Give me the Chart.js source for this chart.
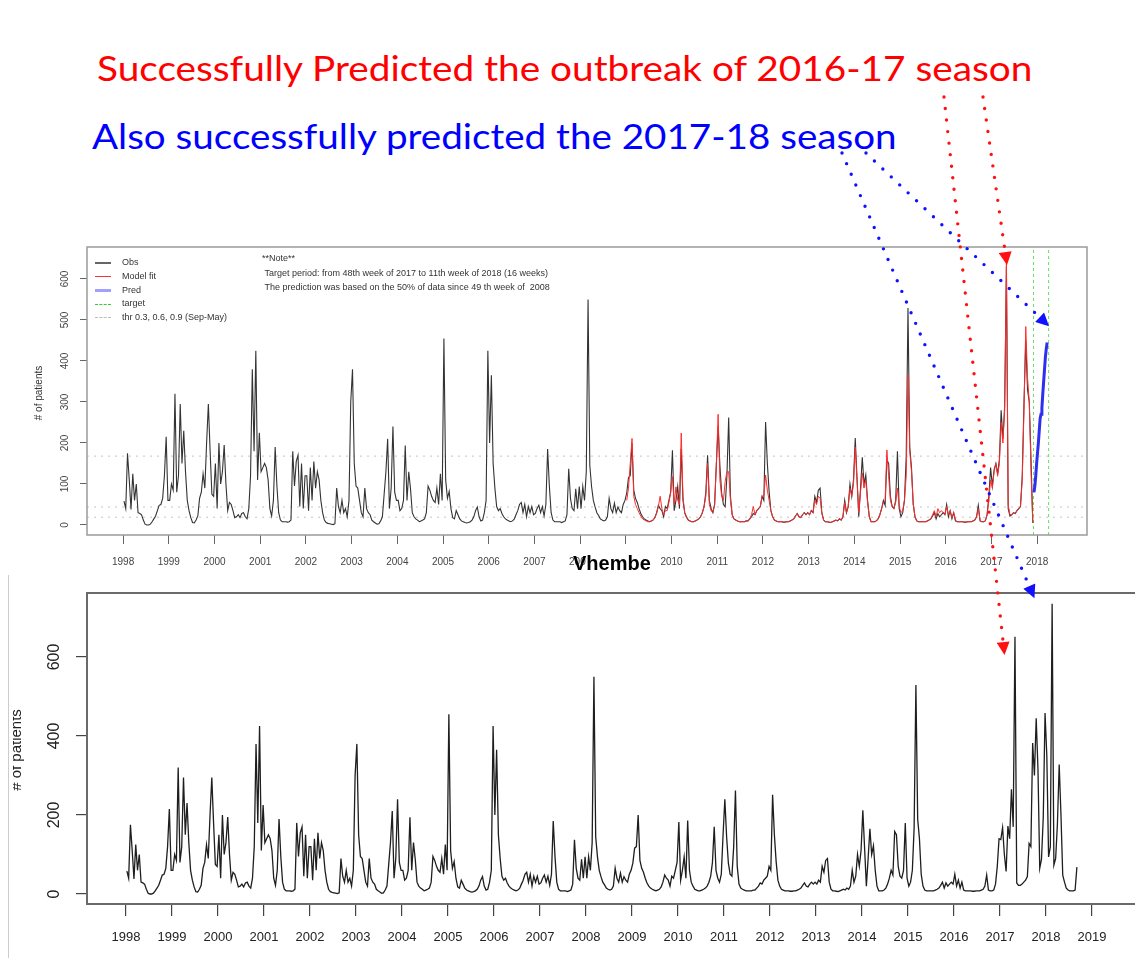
<!DOCTYPE html>
<html>
<head>
<meta charset="utf-8">
<title>Vhembe - outbreak prediction</title>
<script src="https://cdn.jsdelivr.net/npm/chart.js@4.4.1/dist/chart.umd.min.js"></script>
<style>
  html, body { margin: 0; padding: 0; background: #fff; }
  body {
    width: 1135px; height: 958px; position: relative; overflow: hidden;
    font-family: 'Liberation Sans', Arial, sans-serif; color: #222;
  }
  canvas { position: absolute; left: 0; }
  #topChart { top: 240px; }
  #bottomChart { top: 585px; }

  .headline {
    position: absolute; white-space: nowrap; transform-origin: 0 0;
    font-family: Lato, 'Open Sans', sans-serif; font-size: 34px; line-height: 34px;
  }
  .legend { position: absolute; left: 95px; top: 256px; font-size: 9px; line-height: 13.8px; color: #333; }
  .legend div { white-space: nowrap; }
  .swatch { display: inline-block; width: 16px; height: 0; margin-right: 11px; vertical-align: middle; }
  .note { position: absolute; left: 262px; top: 251px; font-size: 9px; line-height: 14.5px; color: #333; white-space: nowrap; }
  .ytitle { position: absolute; white-space: nowrap; transform: translate(-50%, -50%) rotate(-90deg); }
  .clip { position: absolute; overflow: hidden; }
  #vhembe { position: absolute; left: 573px; top: 551px; font-size: 20px; font-weight: bold; color: #000; line-height: 24px; }
  #vhembeMask { position: absolute; left: 586px; top: 553px; width: 70px; height: 20px; background: #fff; }
  #slideEdge { position: absolute; left: 8px; top: 575px; width: 1px; height: 383px; background: #ccc; }
  #arrows { position: absolute; left: 0; top: 0; pointer-events: none; }
</style>
</head>
<body>

<div class="headline" style="left:97px; top:51px; color:#ff0000;" data-width="935">Successfully Predicted the outbreak of 2016-17 season</div>
<div class="headline" style="left:92px; top:119px; color:#0000ff;" data-width="805">Also successfully predicted the 2017-18 season</div>

<canvas id="topChart" width="1135" height="335"></canvas>
<canvas id="bottomChart" width="1160" height="373"></canvas>

<div class="legend">
  <div><span class="swatch" style="border-top:2px solid #666;"></span>Obs</div>
  <div><span class="swatch" style="border-top:1px solid #ff3333;"></span>Model fit</div>
  <div><span class="swatch" style="border-top:3px solid #a0a0ff;"></span>Pred</div>
  <div><span class="swatch" style="border-top:1px dashed #33cc33;"></span>target</div>
  <div><span class="swatch" style="border-top:1px dashed #bbbbbb;"></span>thr 0.3, 0.6, 0.9 (Sep-May)</div>
</div>

<div class="note">
  **Note**<br>
  &nbsp;Target period: from 48th week of 2017 to 11th week of 2018 (16 weeks)<br>
  &nbsp;The prediction was based on the 50% of data since 49 th week of&nbsp; 2008
</div>

<div class="ytitle" style="left:38px; top:393px; font-size:10px; color:#333;"># of patients</div>

<div class="clip" style="left:13px; top:650px; width:30px; height:200px;">
  <div class="ytitle" style="left:2px; top:100px; font-size:15px; color:#222;"># of patients</div>
</div>
<div id="slideEdge"></div>

<div id="vhembeMask"></div>
<div id="vhembe">Vhembe</div>

<svg id="arrows" width="1135" height="958">
  <defs>
    <marker id="headRed" viewBox="0 0 10 10" refX="10" refY="5" markerWidth="14" markerHeight="13" markerUnits="userSpaceOnUse" orient="auto">
      <path d="M0,0 L10,5 L0,10 z" fill="#ff1111"></path>
    </marker>
    <marker id="headBlue" viewBox="0 0 10 10" refX="10" refY="5" markerWidth="14" markerHeight="13" markerUnits="userSpaceOnUse" orient="auto">
      <path d="M0,0 L10,5 L0,10 z" fill="#1111ff"></path>
    </marker>
  </defs>
</svg>

<script>
/**
 * Dados (leitura da figura)
 * ======================================================================== */

// contagens semanais agregadas em 26 passos por ano (~2 semanas cada)
const SLOTS_PER_YEAR = 26;

const obs1998 = [58, 40, 175, 110, 38, 125, 60, 100, 30, 28, 25, 12, 2, 0, 0, 2, 8, 15, 22, 35, 48, 50, 65, 120, 215, 60];
const obs1999 = [60, 100, 85, 320, 80, 120, 295, 150, 230, 130, 60, 35, 18, 6, 5, 12, 22, 65, 80, 125, 90, 200, 295, 180, 75, 70];
const obs2000 = [150, 40, 200, 100, 130, 195, 100, 35, 55, 50, 35, 18, 20, 25, 18, 28, 30, 20, 15, 40, 120, 380, 180, 425, 110, 225];
const obs2001 = [130, 140, 150, 140, 110, 40, 22, 60, 190, 95, 30, 12, 8, 8, 8, 7, 8, 12, 180, 95, 155, 170, 45, 150, 40, 120];
const obs2002 = [120, 35, 140, 60, 155, 90, 130, 110, 60, 30, 12, 6, 4, 3, 2, 1, 3, 90, 45, 30, 60, 30, 40, 20, 60, 300];
const obs2003 = [380, 150, 95, 90, 60, 30, 20, 90, 40, 30, 25, 12, 8, 5, 2, 3, 10, 20, 75, 130, 210, 40, 90, 240, 80, 60];
const obs2004 = [60, 35, 40, 60, 194, 60, 130, 88, 30, 20, 15, 12, 8, 10, 12, 15, 30, 95, 85, 70, 60, 55, 90, 50, 125, 60];
const obs2005 = [455, 110, 65, 82, 40, 18, 15, 35, 25, 15, 10, 8, 6, 5, 6, 8, 12, 20, 35, 44, 20, 10, 12, 30, 60, 425];
const obs2006 = [200, 365, 150, 90, 45, 35, 40, 28, 20, 15, 12, 10, 8, 10, 14, 25, 35, 50, 55, 30, 50, 20, 45, 30, 45, 25];
const obs2007 = [28, 40, 48, 30, 45, 22, 50, 185, 94, 30, 12, 8, 8, 8, 8, 6, 8, 10, 25, 137, 65, 40, 35, 88, 40, 94];
const obs2008 = [40, 94, 60, 130, 550, 145, 94, 60, 44, 30, 23, 15, 12, 10, 12, 20, 65, 40, 30, 53, 30, 44, 35, 30, 50, 60];
const obs2009 = [78, 116, 120, 200, 85, 65, 55, 40, 28, 20, 15, 12, 10, 8, 10, 12, 18, 30, 48, 40, 35, 20, 45, 40, 60, 80];
const obs2010 = [182, 35, 60, 94, 40, 186, 60, 30, 20, 12, 10, 8, 8, 10, 12, 15, 20, 30, 45, 80, 170, 60, 40, 30, 50, 150];
const obs2011 = [240, 145, 78, 50, 45, 120, 262, 70, 25, 15, 12, 10, 8, 8, 8, 8, 10, 10, 15, 20, 28, 25, 35, 40, 45, 70];
const obs2012 = [60, 251, 150, 82, 35, 20, 12, 10, 8, 8, 8, 7, 7, 8, 8, 10, 12, 15, 22, 28, 20, 18, 25, 30, 25, 30];
const obs2013 = [25, 35, 30, 70, 55, 85, 90, 30, 12, 8, 8, 7, 6, 8, 10, 12, 10, 15, 12, 20, 60, 30, 45, 100, 70, 110];
const obs2014 = [212, 116, 20, 90, 165, 100, 122, 60, 20, 8, 8, 8, 10, 15, 25, 40, 60, 48, 158, 150, 70, 45, 40, 60, 180, 40];
const obs2015 = [20, 30, 60, 168, 529, 190, 140, 50, 20, 10, 8, 8, 8, 8, 8, 10, 12, 15, 22, 30, 15, 28, 20, 25, 30, 25];
const obs2016 = [50, 20, 35, 15, 30, 10, 8, 8, 8, 8, 7, 7, 8, 8, 8, 10, 12, 20, 48, 10, 8, 8, 10, 25, 70, 140];
const obs2017 = [138, 168, 100, 57, 172, 140, 265, 170, 651, 28, 22, 22, 25, 30, 35, 44, 128, 120, 382, 300, 445, 316, 65, 88, 195, 458];
const obs2018 = [350, 94, 120, 735, 73, 90, 178, 328, 200, 48, 30, 15, 10, 8, 8, 8, 10, 68];

// série usada no gráfico de cima (termina na 47a semana de 2017)
const obs2017Top = [95, 135, 150, 125, 160, 280, 210, 290, 630, 40, 22, 25, 30, 28, 35, 40, 45, 120, 300, 450, 330, 300, 160, 5];

// ajuste do modelo (linha vermelha)
const fit2009 = [60, 90, 150, 211, 70, 50, 40, 30, 22, 15, 12, 10, 8, 8, 10, 12, 18, 28, 45, 70, 40, 25, 35, 35, 55, 80];
const fit2010 = [118, 50, 93, 60, 50, 224, 70, 28, 18, 12, 10, 8, 8, 10, 12, 15, 20, 30, 45, 70, 150, 50, 35, 30, 50, 150];
const fit2011 = [270, 110, 70, 60, 106, 130, 130, 60, 25, 15, 12, 10, 8, 8, 8, 8, 10, 10, 15, 25, 45, 25, 35, 40, 45, 70];
const fit2012 = [70, 122, 85, 60, 35, 20, 12, 10, 8, 8, 8, 7, 7, 8, 8, 10, 12, 15, 22, 28, 20, 18, 25, 30, 25, 30];
const fit2013 = [25, 35, 30, 60, 50, 70, 65, 28, 12, 8, 8, 7, 6, 8, 10, 12, 10, 15, 12, 20, 55, 30, 45, 90, 70, 100];
const fit2014 = [190, 110, 30, 80, 127, 90, 110, 55, 20, 8, 8, 8, 10, 15, 25, 40, 55, 60, 183, 120, 60, 45, 40, 55, 90, 45];
const fit2015 = [30, 35, 60, 120, 366, 180, 130, 50, 20, 10, 8, 8, 8, 8, 8, 10, 12, 15, 25, 35, 20, 40, 30, 35, 30, 25];
const fit2016 = [45, 25, 35, 18, 30, 12, 8, 8, 8, 8, 7, 7, 8, 8, 8, 10, 12, 20, 40, 12, 8, 8, 10, 25, 60, 110];
const fit2017 = [90, 130, 150, 120, 150, 250, 200, 280, 640, 50, 25, 25, 30, 28, 35, 40, 45, 110, 280, 484, 360, 300, 130, 5];

// previsão semanal: 16 semanas a partir da 48a semana de 2017
const PRED_START = 2017.93;
const pred = [80, 95, 120, 150, 175, 200, 230, 260, 270, 285, 320, 350, 380, 410, 430, 445];

// limiares e janela alvo
const thresholds = [168, 44, 19];
const targetPeriod = [2017.92, 2018.25];

// eixos
const topYearTicks = [1998, 1999, 2000, 2001, 2002, 2003, 2004, 2005, 2006, 2007, 2008, 2009, 2010, 2011, 2012, 2013, 2014, 2015, 2016, 2017, 2018];
const bottomYearTicks = [1998, 1999, 2000, 2001, 2002, 2003, 2004, 2005, 2006, 2007, 2008, 2009, 2010, 2011, 2012, 2013, 2014, 2015, 2016, 2017, 2018, 2019];
const topValueTicks = [0, 100, 200, 300, 400, 500, 600];
const bottomValueTicks = [0, 200, 400, 600];

const obsYears = [1998, 1999, 2000, 2001, 2002, 2003, 2004, 2005, 2006, 2007, 2008, 2009, 2010, 2011, 2012, 2013, 2014, 2015, 2016];
const obsCommon = [obs1998, obs1999, obs2000, obs2001, obs2002, obs2003, obs2004, obs2005, obs2006, obs2007, obs2008,
                   obs2009, obs2010, obs2011, obs2012, obs2013, obs2014, obs2015, obs2016];
const fitYears = [2009, 2010, 2011, 2012, 2013, 2014, 2015, 2016, 2017];
const fitValues = [fit2009, fit2010, fit2011, fit2012, fit2013, fit2014, fit2015, fit2016, fit2017];

/**
 * Montagem dos pontos
 * ======================================================================== */
function seriesPoints(years, blocks) {
    const pts = [];
    years.forEach((year, i) => {
        blocks[i].forEach((v, k) => pts.push({ x: year + (k + 0.5) / SLOTS_PER_YEAR, y: v }));
    });
    return pts;
}

const obsTopPoints = seriesPoints(obsYears.concat([2017]), obsCommon.concat([obs2017Top]));
const obsBottomPoints = seriesPoints(obsYears.concat([2017, 2018]), obsCommon.concat([obs2017, obs2018]));
const fitPoints = seriesPoints(fitYears, fitValues);
const predPoints = pred.map((v, i) => ({ x: PRED_START + i / 52, y: v }));

/**
 * Plugins auxiliares (moldura estilo R e rótulos verticais do eixo y)
 * ======================================================================== */
const framePlugin = {
    id: 'frame',
    afterDraw(chart, args, opts) {
        const { ctx, chartArea: a } = chart;
        ctx.save();
        ctx.strokeStyle = opts.color;
        ctx.lineWidth = opts.width;
        ctx.strokeRect(a.left, a.top, a.right - a.left, a.bottom - a.top);
        ctx.restore();
    }
};

const verticalYLabels = {
    id: 'verticalYLabels',
    afterDraw(chart, args, opts) {
        const { ctx, chartArea } = chart;
        const y = chart.scales.y;
        ctx.save();
        ctx.font = opts.font;
        ctx.fillStyle = opts.color;
        ctx.textAlign = 'center';
        ctx.textBaseline = 'middle';
        y.ticks.forEach(t => {
            ctx.save();
            ctx.translate(chartArea.left - opts.offset, y.getPixelForValue(t.value));
            ctx.rotate(-Math.PI / 2);
            ctx.fillText(String(t.value), 0, 0);
            ctx.restore();
        });
        ctx.restore();
    }
};

function hLine(value, xMin, xMax) {
    return [{ x: xMin, y: value }, { x: xMax, y: value }];
}

/**
 * Gráfico de cima: ajuste + previsão
 * ======================================================================== */
const TOP_X = [1997.21, 2019.09];
const TOP_Y = [-24.4, 678];

const topDatasets = [
    { label: 'Pred', data: predPoints, borderColor: '#2f2ff0', borderWidth: 3, order: 0 },
    { label: 'Model fit', data: fitPoints, borderColor: '#ff2b2b', borderWidth: 1, order: 1 },
    { label: 'Obs', data: obsTopPoints, borderColor: '#333333', borderWidth: 1.1, order: 2 }
];
thresholds.forEach(v => topDatasets.push({
    label: 'thr', data: hLine(v, TOP_X[0], TOP_X[1]),
    borderColor: '#c4c4c4', borderWidth: 1, borderDash: [2, 5], order: 5
}));
targetPeriod.forEach(t => topDatasets.push({
    label: 'target', data: [{ x: t, y: TOP_Y[0] }, { x: t, y: TOP_Y[1] }],
    borderColor: '#66dd66', borderWidth: 1, borderDash: [3, 3], order: 4
}));

const topChart = new Chart(document.getElementById('topChart'), {
    type: 'line',
    data: { datasets: topDatasets },
    options: {
        responsive: false,
        animation: false,
        devicePixelRatio: 1,
        events: [],
        elements: { point: { radius: 0 }, line: { tension: 0 } },
        layout: { padding: { top: 7, right: 48, left: 0, bottom: 0 } },
        plugins: {
            legend: { display: false },
            tooltip: { enabled: false },
            frame: { color: '#9a9a9a', width: 1.5 },
            verticalYLabels: { font: '10px "Liberation Sans", Arial', color: '#444', offset: 22 }
        },
        scales: {
            x: {
                type: 'linear', min: TOP_X[0], max: TOP_X[1],
                afterBuildTicks: s => { s.ticks = topYearTicks.map(v => ({ value: v })); },
                afterFit: s => { s.height = 40; },
                border: { display: false },
                grid: { drawOnChartArea: false, tickLength: 9, color: '#666' },
                ticks: {
                    autoSkip: false, maxRotation: 0, padding: 12,
                    color: '#444', font: { family: '"Liberation Sans", Arial', size: 10 },
                    callback: v => String(v)
                }
            },
            y: {
                type: 'linear', min: TOP_Y[0], max: TOP_Y[1],
                afterBuildTicks: s => { s.ticks = topValueTicks.map(v => ({ value: v })); },
                afterFit: s => { s.width = 87; },
                border: { display: false },
                grid: { drawOnChartArea: false, tickLength: 7, color: '#666' },
                ticks: { display: false }
            }
        }
    },
    plugins: [framePlugin, verticalYLabels]
});

/**
 * Gráfico de baixo: série observada (Vhembe)
 * ======================================================================== */
const BOTTOM_X = [1997.152, 2020.48];
const BOTTOM_Y = [-25.3, 762];

const bottomChart = new Chart(document.getElementById('bottomChart'), {
    type: 'line',
    data: {
        datasets: [
            { label: 'Vhembe', data: obsBottomPoints, borderColor: '#1e1e1e', borderWidth: 1.3 }
        ]
    },
    options: {
        responsive: false,
        animation: false,
        devicePixelRatio: 1,
        events: [],
        elements: { point: { radius: 0 }, line: { tension: 0 } },
        layout: { padding: { top: 8, right: 0, left: 0, bottom: 0 } },
        plugins: {
            legend: { display: false },
            tooltip: { enabled: false },
            frame: { color: '#6a6a6a', width: 2 },
            verticalYLabels: { font: '16px "Liberation Sans", Arial', color: '#222', offset: 32 }
        },
        scales: {
            x: {
                type: 'linear', min: BOTTOM_X[0], max: BOTTOM_X[1],
                afterBuildTicks: s => { s.ticks = bottomYearTicks.map(v => ({ value: v })); },
                afterFit: s => { s.height = 54; },
                border: { display: false },
                grid: { drawOnChartArea: false, tickLength: 12, color: '#444', lineWidth: 1.2 },
                ticks: {
                    autoSkip: false, maxRotation: 0, padding: 14,
                    color: '#222', font: { family: '"Liberation Sans", Arial', size: 13 },
                    callback: v => String(v)
                }
            },
            y: {
                type: 'linear', min: BOTTOM_Y[0], max: BOTTOM_Y[1],
                afterBuildTicks: s => { s.ticks = bottomValueTicks.map(v => ({ value: v })); },
                afterFit: s => { s.width = 87; },
                border: { display: false },
                grid: { drawOnChartArea: false, tickLength: 11, color: '#444', lineWidth: 1.2 },
                ticks: { display: false }
            }
        }
    },
    plugins: [framePlugin, verticalYLabels]
});

/**
 * Setas pontilhadas das anotações
 * ======================================================================== */
// ponto de partida (junto ao texto) e alvo em unidades de dados de cada gráfico
const arrowNotes = [
    { color: '#ff1111', head: 'headRed',  from: [944, 97],  chart: bottomChart, top: 585, at: [2017.1, 605] },
    { color: '#ff1111', head: 'headRed',  from: [983, 97],  chart: topChart,    top: 240, at: [2017.34, 634] },
    { color: '#1111ff', head: 'headBlue', from: [842, 153], chart: bottomChart, top: 585, at: [2017.75, 749] },
    { color: '#1111ff', head: 'headBlue', from: [866, 153], chart: topChart,    top: 240, at: [2018.26, 485] }
];

const svg = document.getElementById('arrows');
arrowNotes.forEach(a => {
    const x2 = a.chart.scales.x.getPixelForValue(a.at[0]);
    const y2 = a.top + a.chart.scales.y.getPixelForValue(a.at[1]);
    const line = document.createElementNS('http://www.w3.org/2000/svg', 'line');
    line.setAttribute('x1', a.from[0]);
    line.setAttribute('y1', a.from[1]);
    line.setAttribute('x2', x2);
    line.setAttribute('y2', y2);
    line.setAttribute('stroke', a.color);
    line.setAttribute('stroke-width', '3.4');
    line.setAttribute('stroke-linecap', 'round');
    line.setAttribute('stroke-dasharray', '0 11.6');
    line.setAttribute('marker-end', 'url(#' + a.head + ')');
    svg.appendChild(line);
});

// ajusta a largura dos títulos à do slide original
document.querySelectorAll('.headline').forEach(el => {
    const w = parseFloat(el.dataset.width);
    el.style.transform = 'scaleX(' + (w / el.offsetWidth).toFixed(3) + ')';
});
</script>
</body>
</html>
